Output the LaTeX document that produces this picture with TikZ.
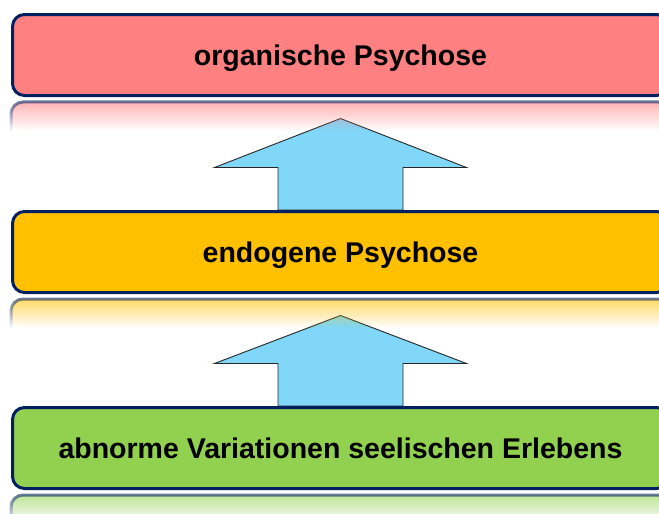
\documentclass[tikz,border=0pt]{standalone}
\usepackage{fontspec}
\setmainfont{Liberation Sans}
\usetikzlibrary{calc,fadings}
\definecolor{pinkc}{RGB}{255,128,128}
\definecolor{orangec}{RGB}{255,192,0}
\definecolor{greenc}{RGB}{146,208,80}
\definecolor{navyc}{RGB}{0,32,96}
\definecolor{arrowc}{RGB}{128,215,247}
\tikzfading[name=reflfade, top color=transparent!40, bottom color=transparent!100]
\tikzset{
  levelbox/.style={rectangle, rounded corners=12pt, draw=navyc, line width=3pt,
    minimum width=656pt, minimum height=81pt, inner sep=0pt,
    font=\fontsize{28.5}{34}\selectfont\bfseries, text height=20pt, text depth=0pt},
  blockarrow/.style={fill=arrowc, draw=black!85, line width=0.9pt, line join=miter},
  reflfill/.style={path fading=reflfade},
  refldraw/.style={draw=navyc, line width=3pt, path fading=reflfade}
}
\begin{document}
\begin{tikzpicture}[x=1pt,y=-1pt]
\useasboundingbox (0,0) rectangle (659,514);
\clip (0,0) rectangle (659,514);
\path (340.5,55) coordinate (ctop);
\path (340.5,252) coordinate (cmid);
\path (340.5,448) coordinate (cbot);
\node[levelbox, draw=none, opacity=0] (top) at (ctop) {};
\node[levelbox, draw=none, opacity=0] (mid) at (cmid) {};
\node[levelbox, draw=none, opacity=0] (bot) at (cbot) {};
% arrows
\draw[blockarrow] ($(mid.north)+(-62.5,0)$) -- ++(0,-42.5) -- ++(-63.5,0)
   -- ($(top.south)+(0,21.5)$) -- ($(mid.north)+(126,-42.5)$) -- ++(-63.5,0)
   -- ($(mid.north)+(62.5,0)$) -- cycle;
\draw[blockarrow] ($(bot.north)+(-62.5,0)$) -- ++(0,-42.5) -- ++(-63.5,0)
   -- ($(mid.south)+(0,21.5)$) -- ($(bot.north)+(126,-42.5)$) -- ++(-63.5,0)
   -- ($(bot.north)+(62.5,0)$) -- cycle;
% reflections
\foreach \n/\c in {top/pinkc, mid/orangec, bot/greenc}{
  \begin{scope}
    \clip ($(\n.south west)+(-5,1.6)$) rectangle ($(\n.south east)+(5,34)$);
    \path[reflfill, fill=\c, rounded corners=12pt]
      ($(\n.south west)+(0,34)$) |- ($(\n.south east)+(0,5)$) -- ($(\n.south east)+(0,34)$) -- cycle;
    \path[refldraw, rounded corners=12pt]
      ($(\n.south west)+(0,34)$) |- ($(\n.south east)+(0,5)$) -- ($(\n.south east)+(0,34)$);
  \end{scope}
}
% boxes
\node[levelbox, fill=pinkc] at (ctop) {organische Psychose};
\node[levelbox, fill=orangec] at (cmid) {endogene Psychose};
\node[levelbox, fill=greenc] at (cbot) {abnorme Variationen seelischen Erlebens};
\end{tikzpicture}
\end{document}
